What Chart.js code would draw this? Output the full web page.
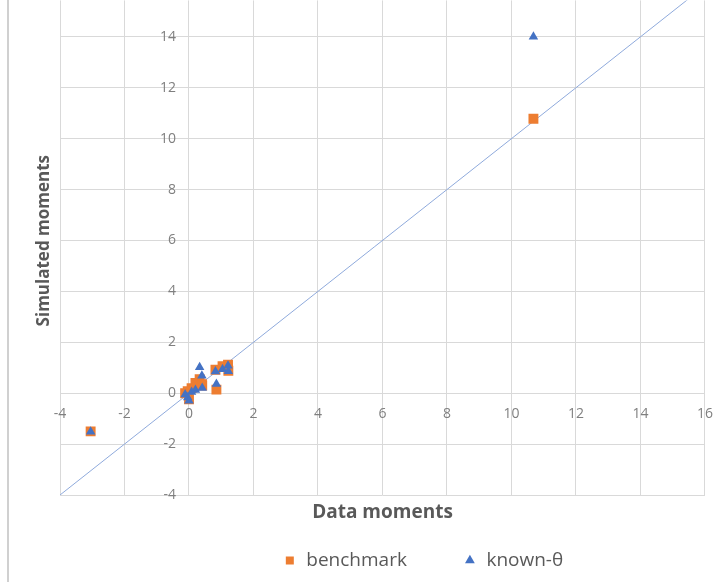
<!DOCTYPE html>
<html>
<head>
<meta charset="utf-8">
<script src="https://cdn.jsdelivr.net/npm/chart.js@4/dist/chart.umd.min.js"></script>
<style>
  html, body { margin: 0; padding: 0; background: #fff; }
  #wrap { position: relative; width: 725px; height: 582px; overflow: hidden; }
  /* plot top sits a bit above the visible frame, as in the source image */
  #chart { position: absolute; left: 0; top: -21px; }
  #frame { position: absolute; left: 7px; top: 0; width: 2px; height: 582px; background: #d0d0d0; }
</style>
</head>
<body>
<div id="wrap">
  <canvas id="chart" width="725" height="603"></canvas>
  <div id="frame"></div>
</div>
<script>
// data moments (x) shared by both series
const dataMoments = [-3.05, 10.68, -0.12, -0.04, 0.0, 0.08, 0.2, 0.33, 0.4, 0.41, 0.85, 0.82, 1.04, 1.21, 1.22];
const benchmark   = [-1.5, 10.78, 0.0, 0.08, -0.24, 0.2, 0.4, 0.55, 0.35, 0.3, 0.14, 0.92, 1.06, 1.12, 0.88];
const knownTheta  = [-1.52, 14.0, -0.05, -0.17, -0.3, 0.05, 0.12, 1.02, 0.68, 0.2, 0.36, 0.85, 0.94, 1.08, 0.86];
const diagonal = [-4, 16];

const xTicks = { min: -4, max: 16, step: 2 };
const yTicks = { min: -4, max: 15.43, step: 2 };

const toPoints = ys => dataMoments.map((x, i) => ({ x: x, y: ys[i] }));

const axisTitles = {
  id: "axisTitles",
  afterDraw(chart) {
    const { ctx, chartArea } = chart;
    ctx.save();
    ctx.fillStyle = "#595959";
    ctx.textAlign = "center";
    ctx.textBaseline = "middle";
    ctx.font = 'bold 19px "Open Sans"';
    ctx.fillText("Data moments", (chartArea.left + chartArea.right) / 2, chartArea.bottom + 18);
    ctx.translate(chartArea.left - 16, (chartArea.top + chartArea.bottom) / 2 - 7);
    ctx.rotate(-Math.PI / 2);
    ctx.font = 'bold 17px "Open Sans"';
    ctx.fillText("Simulated moments", 0, 0);
    ctx.restore();
  }
};

// excel puts the legend a bit right of the plot centre
const legendShift = {
  id: "legendShift",
  afterLayout(chart) {
    chart.legend.left += 38;
    chart.legend.right += 38;
  }
};

const grid = "#d9d9d9";

new Chart(document.getElementById("chart"), {
  type: "scatter",
  data: {
    datasets: [
      {
        label: "benchmark",
        data: toPoints(benchmark),
        pointStyle: "rect",
        pointRadius: 7,
        pointHoverRadius: 7,
        backgroundColor: "#ed7d31",
        borderColor: "#ed7d31",
        borderWidth: 0,
        order: 1
      },
      {
        label: "known-θ",
        data: toPoints(knownTheta),
        pointStyle: "triangle",
        pointRadius: 5.5,
        pointHoverRadius: 5.5,
        backgroundColor: "#4472c4",
        borderColor: "#4472c4",
        borderWidth: 0,
        order: 0
      },
      {
        type: "line",
        label: "45",
        data: diagonal.map(v => ({ x: v, y: v })),
        borderColor: "#8faadc",
        borderWidth: 1,
        pointRadius: 0,
        fill: false,
        order: 2
      }
    ]
  },
  options: {
    responsive: false,
    animation: false,
    layout: { padding: { left: 60, right: 15, top: 0, bottom: 2 } },
    plugins: {
      tooltip: { enabled: false },
      legend: {
        position: "bottom",
        labels: {
          usePointStyle: true,
          boxWidth: 14,
          boxHeight: 8,
          padding: 56,
          color: "#595959",
          font: { family: "Open Sans", size: 19 },
          filter: item => item.datasetIndex !== 2,
          sort: (a, b) => a.datasetIndex - b.datasetIndex
        }
      }
    },
    scales: {
      x: {
        type: "linear",
        position: { y: 0 },
        min: xTicks.min,
        max: xTicks.max,
        grid: { color: grid, drawTicks: false },
        border: { color: grid },
        ticks: {
          stepSize: xTicks.step,
          includeBounds: false,
          padding: 12,
          color: "#7f7f7f",
          font: { family: "Open Sans", size: 14 }
        }
      },
      y: {
        type: "linear",
        // labels sit just left of the x = 0 gridline; the axis line itself is hidden
        position: { x: -0.4 },
        min: yTicks.min,
        max: yTicks.max,
        grid: { color: grid, drawTicks: false },
        border: { display: false },
        ticks: {
          stepSize: yTicks.step,
          includeBounds: false,
          padding: 13,
          color: "#7f7f7f",
          font: { family: "Open Sans", size: 14 }
        }
      }
    }
  },
  plugins: [axisTitles, legendShift]
});
</script>
</body>
</html>
